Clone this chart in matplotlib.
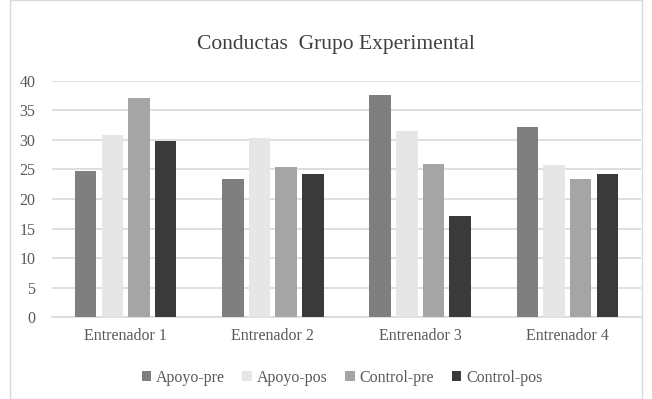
import matplotlib
matplotlib.use("Agg")
import matplotlib.pyplot as plt
import numpy as np
from matplotlib.patches import Rectangle

categories = ["Entrenador 1", "Entrenador 2", "Entrenador 3", "Entrenador 4"]
series_names = ["Apoyo-pre", "Apoyo-pos", "Control-pre", "Control-pos"]
apoyo_pre = [24.8, 23.3, 37.5, 32.2]
apoyo_pos = [30.9, 30.3, 31.5, 25.7]
control_pre = [37.1, 25.4, 26.0, 23.3]
control_pos = [29.8, 24.2, 17.1, 24.2]
yticks = [0, 5, 10, 15, 20, 25, 30, 35, 40]

colors = ["#7f7f7f", "#e6e6e6", "#a5a5a5", "#3a3a3a"]
plt.rcParams['font.family'] = ['Liberation Serif', 'DejaVu Serif']
txt = "#595959"
fs = 11.5

fig = plt.figure(figsize=(6.52, 3.99), dpi=100)
ax = fig.add_axes([52/652, 1-317.3/399, (641-52)/652, (317.3-80.7)/399])

x = np.arange(len(categories))
step = 0.181
width = 0.146
data = [apoyo_pre, apoyo_pos, control_pre, control_pos]
handles = []
for i, (vals, c, name) in enumerate(zip(data, colors, series_names)):
    b = ax.bar(x + (i - 1.5) * step, vals, width, color=c, label=name, zorder=3)
    handles.append(b)

ax.set_xlim(-0.5, 3.5)
ax.set_ylim(0, 40)
ax.set_yticks(yticks)
ax.set_yticklabels([str(v) for v in yticks], color=txt, fontsize=fs)
ax.set_xticks(x)
ax.set_xticklabels(categories, color=txt, fontsize=fs)
ax.tick_params(axis='both', length=0)
ax.tick_params(axis='x', pad=8)
ax.tick_params(axis='y', pad=12)
ax.grid(axis='y', color="#d9d9d9", linewidth=1.2, zorder=0)
for s in ['top', 'right', 'left']:
    ax.spines[s].set_visible(False)
ax.spines['bottom'].set_color("#d9d9d9")
ax.spines['bottom'].set_linewidth(1.2)

fig.text(336/652, 1-45/399, "Conductas  Grupo Experimental", ha='center', va='center',
         fontsize=15.5, color="#404040")

fig.legend(handles=handles, labels=series_names, loc='center', bbox_to_anchor=(342/652, 1-378/399),
           ncol=4, frameon=False, prop={'family': ['Liberation Serif'], 'size': fs},
           handlelength=0.6, handleheight=0.6,
           handletextpad=0.3, columnspacing=1.1, labelcolor=txt)

fig.patches.append(Rectangle((10/652, 0), 1-20/652, 1, transform=fig.transFigure,
                             fill=False, edgecolor="#d9d9d9", linewidth=1.0))

fig.savefig("out.png", dpi=100)
